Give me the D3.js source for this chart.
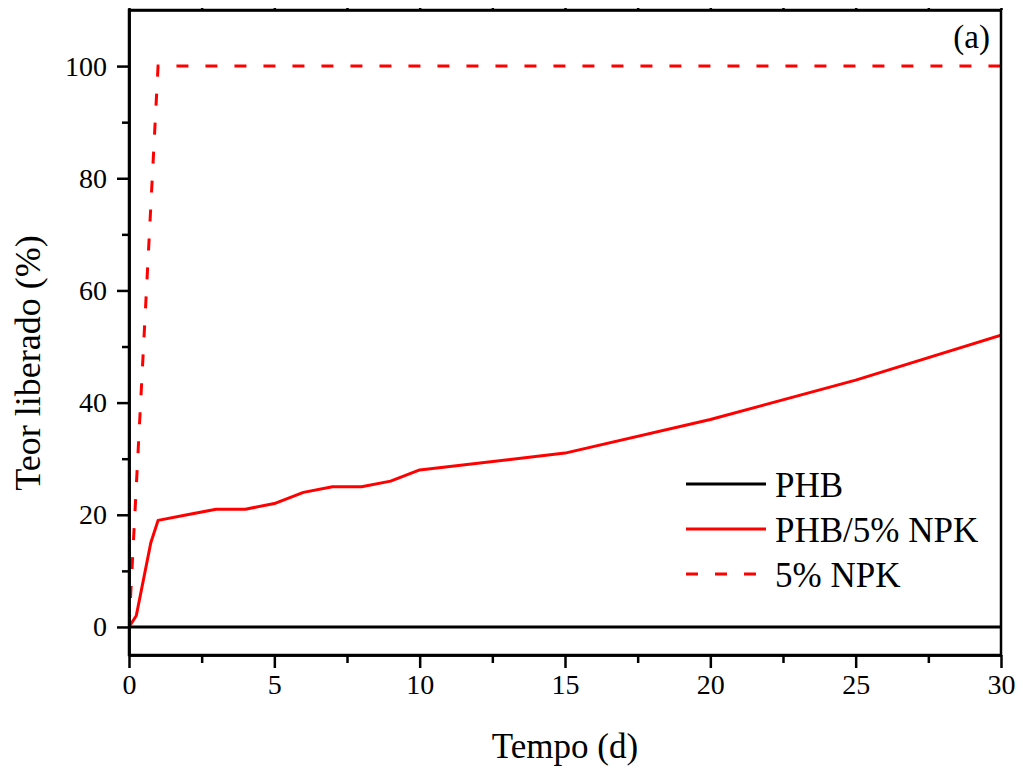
<!DOCTYPE html>
<html><head><meta charset="utf-8">
<script src="https://cdn.jsdelivr.net/npm/d3@7"></script>
<style>body{margin:0;background:#fff}svg{display:block}</style>
</head><body>
<svg id="c" width="1023" height="772"></svg>
<script>
const phbX = [0, 30];
const phbY = [0, 0];
const compX = [0, 0.25, 0.75, 1, 2, 3, 4, 5, 6, 7, 8, 9, 10, 15, 20, 25, 30];
const compY = [0, 2, 15, 19, 20, 21, 21, 22, 24, 25, 25, 26, 28, 31, 37, 44, 52];
const npkX = [0, 1, 30];
const npkY = [0, 100, 100];
const xTicks = [0, 5, 10, 15, 20, 25, 30];
const yTicks = [0, 20, 40, 60, 80, 100];
const seriesNames = ["PHB", "PHB/5% NPK", "5% NPK"];

const svg = d3.select("#c");
const L = 129, R = 1001, T = 10, B = 655;
const x = d3.scaleLinear().domain([0, 30]).range([L, R]);
const y = d3.scaleLinear().domain([-5, 110]).range([B, T]);
const font = "'Liberation Serif', 'Times New Roman', serif";
const dash = "12,17";

svg.append("clipPath").attr("id","cp").append("rect")
  .attr("x", L).attr("y", T).attr("width", R-L).attr("height", B-T);

const line = d3.line().x(d => x(d[0])).y(d => y(d[1]));
const g = svg.append("g").attr("clip-path","url(#cp)");
g.append("path").datum(phbX.map((v,i)=>[v,phbY[i]]))
  .attr("d", line).attr("fill","none").attr("stroke","#000").attr("stroke-width",3);
g.append("path").datum(compX.map((v,i)=>[v,compY[i]]))
  .attr("d", line).attr("fill","none").attr("stroke","#ff0000").attr("stroke-width",3).attr("stroke-linejoin","round");
g.append("path").datum(npkX.map((v,i)=>[v,npkY[i]]))
  .attr("d", line).attr("fill","none").attr("stroke","#ff0000").attr("stroke-width",3).attr("stroke-dasharray",dash);

const minorX = d3.range(2.5, 30, 5);
const minorY = d3.range(0, 110, 10).filter(v => v % 20 !== 0);

svg.append("g").attr("transform", `translate(0,${B})`)
  .call(d3.axisBottom(x).tickValues(xTicks).tickSize(13).tickSizeOuter(0).tickPadding(6));
svg.append("g").attr("transform", `translate(${L},0)`)
  .call(d3.axisLeft(y).tickValues(yTicks).tickSize(12).tickSizeOuter(0).tickPadding(10));
svg.append("g").attr("transform", `translate(0,${B})`)
  .call(d3.axisBottom(x).tickValues(minorX).tickSize(8).tickSizeOuter(0).tickFormat(""));
svg.append("g").attr("transform", `translate(${L},0)`)
  .call(d3.axisLeft(y).tickValues(minorY).tickSize(7).tickSizeOuter(0).tickFormat(""));
svg.append("g").attr("transform", `translate(0,${T})`)
  .call(d3.axisTop(x).tickValues(xTicks.concat(minorX)).tickSize(2).tickSizeOuter(0).tickFormat(""));

svg.selectAll(".domain").attr("stroke","#000").attr("stroke-width",2.5);
svg.selectAll(".tick line").attr("stroke","#000").attr("stroke-width",2.5);
svg.selectAll(".tick text").attr("font-family", font).attr("font-size", 28).attr("fill","#000");

svg.append("rect").attr("x", L).attr("y", T).attr("width", R-L).attr("height", B-T)
  .attr("fill","none").attr("stroke","#000").attr("stroke-width",2.5);

svg.append("text").attr("x", 565).attr("y", 758).attr("text-anchor","middle")
  .attr("font-family", font).attr("font-size", 35).text("Tempo (d)");
svg.append("text").attr("transform", `translate(40,363) rotate(-90)`).attr("text-anchor","middle")
  .attr("font-family", font).attr("font-size", 36).text("Teor liberado (%)");
svg.append("text").attr("x", 990).attr("y", 48).attr("text-anchor","end")
  .attr("font-family", font).attr("font-size", 33).text("(a)");

const leg = svg.append("g");
const ly = [484, 529, 574];
const styles = [{c:"#000", d:null}, {c:"#ff0000", d:null}, {c:"#ff0000", d:dash}];
seriesNames.forEach((n, i) => {
  leg.append("line").attr("x1", 686).attr("x2", 766).attr("y1", ly[i]).attr("y2", ly[i])
    .attr("stroke", styles[i].c).attr("stroke-width", 3).attr("stroke-dasharray", styles[i].d);
  leg.append("text").attr("x", 775).attr("y", ly[i] + 13).attr("font-family", font)
    .attr("font-size", 35).text(n);
});
</script>
</body></html>
